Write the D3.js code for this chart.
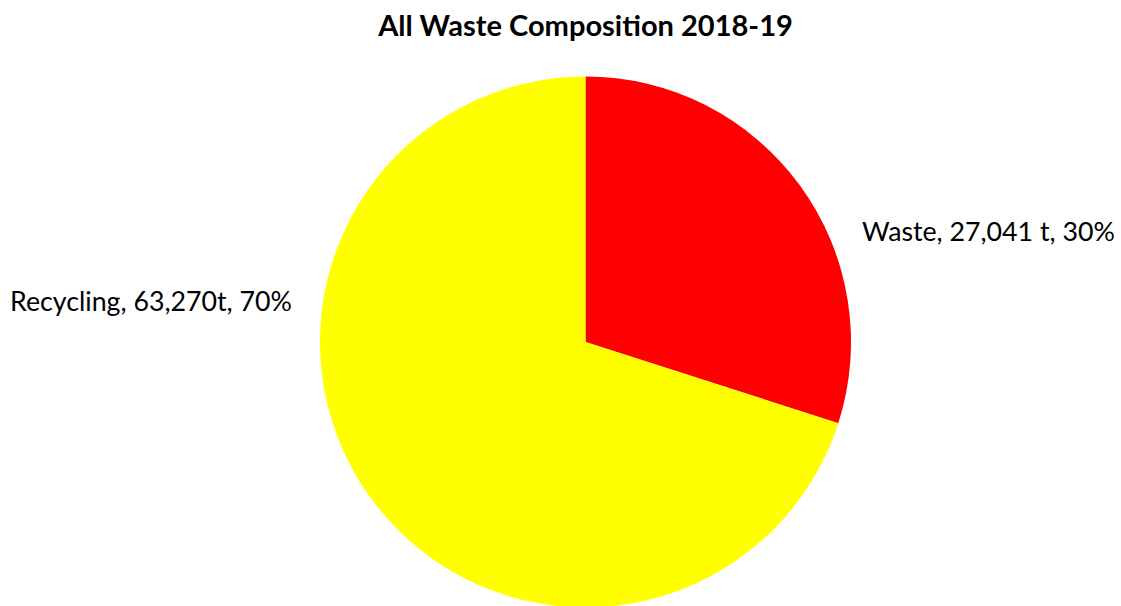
<!DOCTYPE html>
<html><head><meta charset="utf-8">
<script src="https://cdn.jsdelivr.net/npm/d3@7"></script>
<style>body{margin:0;background:#fff}svg{display:block}</style>
</head><body>
<svg id="chart" width="1121" height="606"></svg>
<script>
const categories = ["Waste", "Recycling"];
const values = [27041, 63270];
const labels = ["Waste, 27,041 t, 30%", "Recycling, 63,270t, 70%"];
const colors = ["#ff0000", "#ffff00"];
const title = "All Waste Composition 2018-19";

const svg = d3.select("#chart");
const W = 1121, H = 606;
const cx = 585.5, cy = 342, r = 265.5;
const font = "Lato, 'Liberation Sans', Arial, sans-serif";

const data = categories.map((c, i) => ({c, v: values[i], label: labels[i], color: colors[i]}));
const pie = d3.pie().value(d => d.v).sort(null);
const arc = d3.arc().innerRadius(0).outerRadius(r);
const arcs = pie(data);

const g = svg.append("g").attr("transform", `translate(${cx},${cy})`);
g.selectAll("path").data(arcs).enter().append("path")
  .attr("d", arc).attr("fill", d => d.data.color);

function fit(sel, target) {
  const w = sel.node().getComputedTextLength();
  const fs = parseFloat(sel.attr("font-size"));
  sel.attr("font-size", fs * target / w);
}

const t = svg.append("text").attr("x", cx).attr("y", 36).attr("text-anchor", "middle")
  .attr("font-family", font).attr("font-weight", "bold").attr("font-size", 24)
  .attr("fill", "#000").text(title);
fit(t, 415);

const lab = [
  {x: 862, y: 241, anchor: "start", w: 253},
  {x: 10, y: 311, anchor: "start", w: 282}
];
svg.selectAll("text.lbl").data(arcs).enter().append("text").attr("class", "lbl")
  .attr("x", (d, i) => lab[i].x).attr("y", (d, i) => lab[i].y)
  .attr("text-anchor", (d, i) => lab[i].anchor)
  .attr("font-family", font).attr("font-size", 22).attr("fill", "#000")
  .text(d => d.data.label)
  .each(function(d, i){ fit(d3.select(this), lab[i].w); });
</script>
</body></html>
